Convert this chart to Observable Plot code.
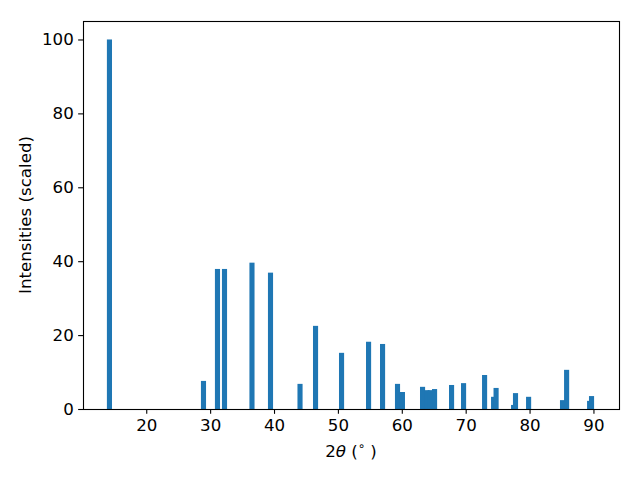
<!DOCTYPE html>
<html><head><meta charset="utf-8">
<script src="https://cdn.jsdelivr.net/npm/d3@7"></script>
<script src="https://cdn.jsdelivr.net/npm/@observablehq/plot@0.6"></script>
<style>
body{margin:0;background:#fff}
svg{font-family:"DejaVu Sans",sans-serif}
</style>
</head><body><div id="chart"></div>
<script>
// 2θ positions (degrees) and scaled intensities
const angles = [14.24, 28.96, 31.15, 32.25, 36.55, 39.45, 44.07, 46.5, 50.57, 54.8, 56.99, 59.33, 60.1, 63.25, 63.95, 64.45, 65.13, 67.79, 69.67, 72.96, 74.37, 74.76, 77.5, 77.8, 79.85, 85.16, 85.8, 89.4, 89.7];
const intensities = [100, 7.6, 37.9, 37.9, 39.6, 36.9, 6.8, 22.5, 15.2, 18.2, 17.6, 6.8, 4.6, 6.0, 5.1, 5.1, 5.4, 6.5, 7.0, 9.2, 3.3, 5.7, 1.1, 4.3, 3.3, 2.4, 10.6, 2.2, 3.5];
const xTicks = [20, 30, 40, 50, 60, 70, 80, 90];
const yTicks = [0, 20, 40, 60, 80, 100];
const yLabel = "Intensities (scaled)";

const barWidth = 0.8;
const data = angles.map((a, i) => ({angle: a, intensity: intensities[i]}));

const W = 640, H = 480, mL = 83, mR = 21, mT = 21, mB = 71;
const fs = 16.67, tick = 4.86, pad = 4.86;

const chart = Plot.plot({
  width: W, height: H,
  marginLeft: mL, marginRight: mR, marginTop: mT, marginBottom: mB,
  style: {fontFamily: "DejaVu Sans, sans-serif", fontSize: fs + "px", color: "black", background: "white", overflow: "visible"},
  x: {domain: [10.1, 94.0]},
  y: {domain: [0, 105]},
  marks: [
    Plot.rectY(data, {x1: d => d.angle - barWidth / 2, x2: d => d.angle + barWidth / 2, y: "intensity", fill: "#1f77b4"}),
    Plot.axisX({ticks: xTicks, tickSize: tick, tickPadding: pad, tickFormat: d => String(d), label: null, fontSize: fs, strokeWidth: 1.1}),
    Plot.axisY({ticks: yTicks, tickSize: tick, tickPadding: pad, tickFormat: d => String(d), label: null, fontSize: fs, strokeWidth: 1.1}),
    Plot.frame({stroke: "black", strokeWidth: 1.1})
  ]
});
document.getElementById("chart").appendChild(chart);

const svg = d3.select(chart);
// x label: 2θ (°)
const xl = svg.append("text")
  .attr("x", mL + (W - mL - mR) / 2)
  .attr("y", 452)
  .attr("text-anchor", "middle")
  .attr("dominant-baseline", "middle")
  .attr("font-size", fs)
  .attr("fill", "black");
xl.append("tspan").text("2");
xl.append("tspan").attr("font-style", "italic").text("θ");
xl.append("tspan").text(" (");
xl.append("tspan").attr("font-size", fs * 0.7).attr("dy", -6).text("∘");
xl.append("tspan").attr("dy", 6).text(" )");
// y label
svg.append("text")
  .attr("transform", `translate(26,${mT + (H - mT - mB) / 2}) rotate(-90)`)
  .attr("text-anchor", "middle")
  .attr("dominant-baseline", "middle")
  .attr("font-size", fs)
  .attr("fill", "black")
  .text(yLabel);
</script>
</body></html>
